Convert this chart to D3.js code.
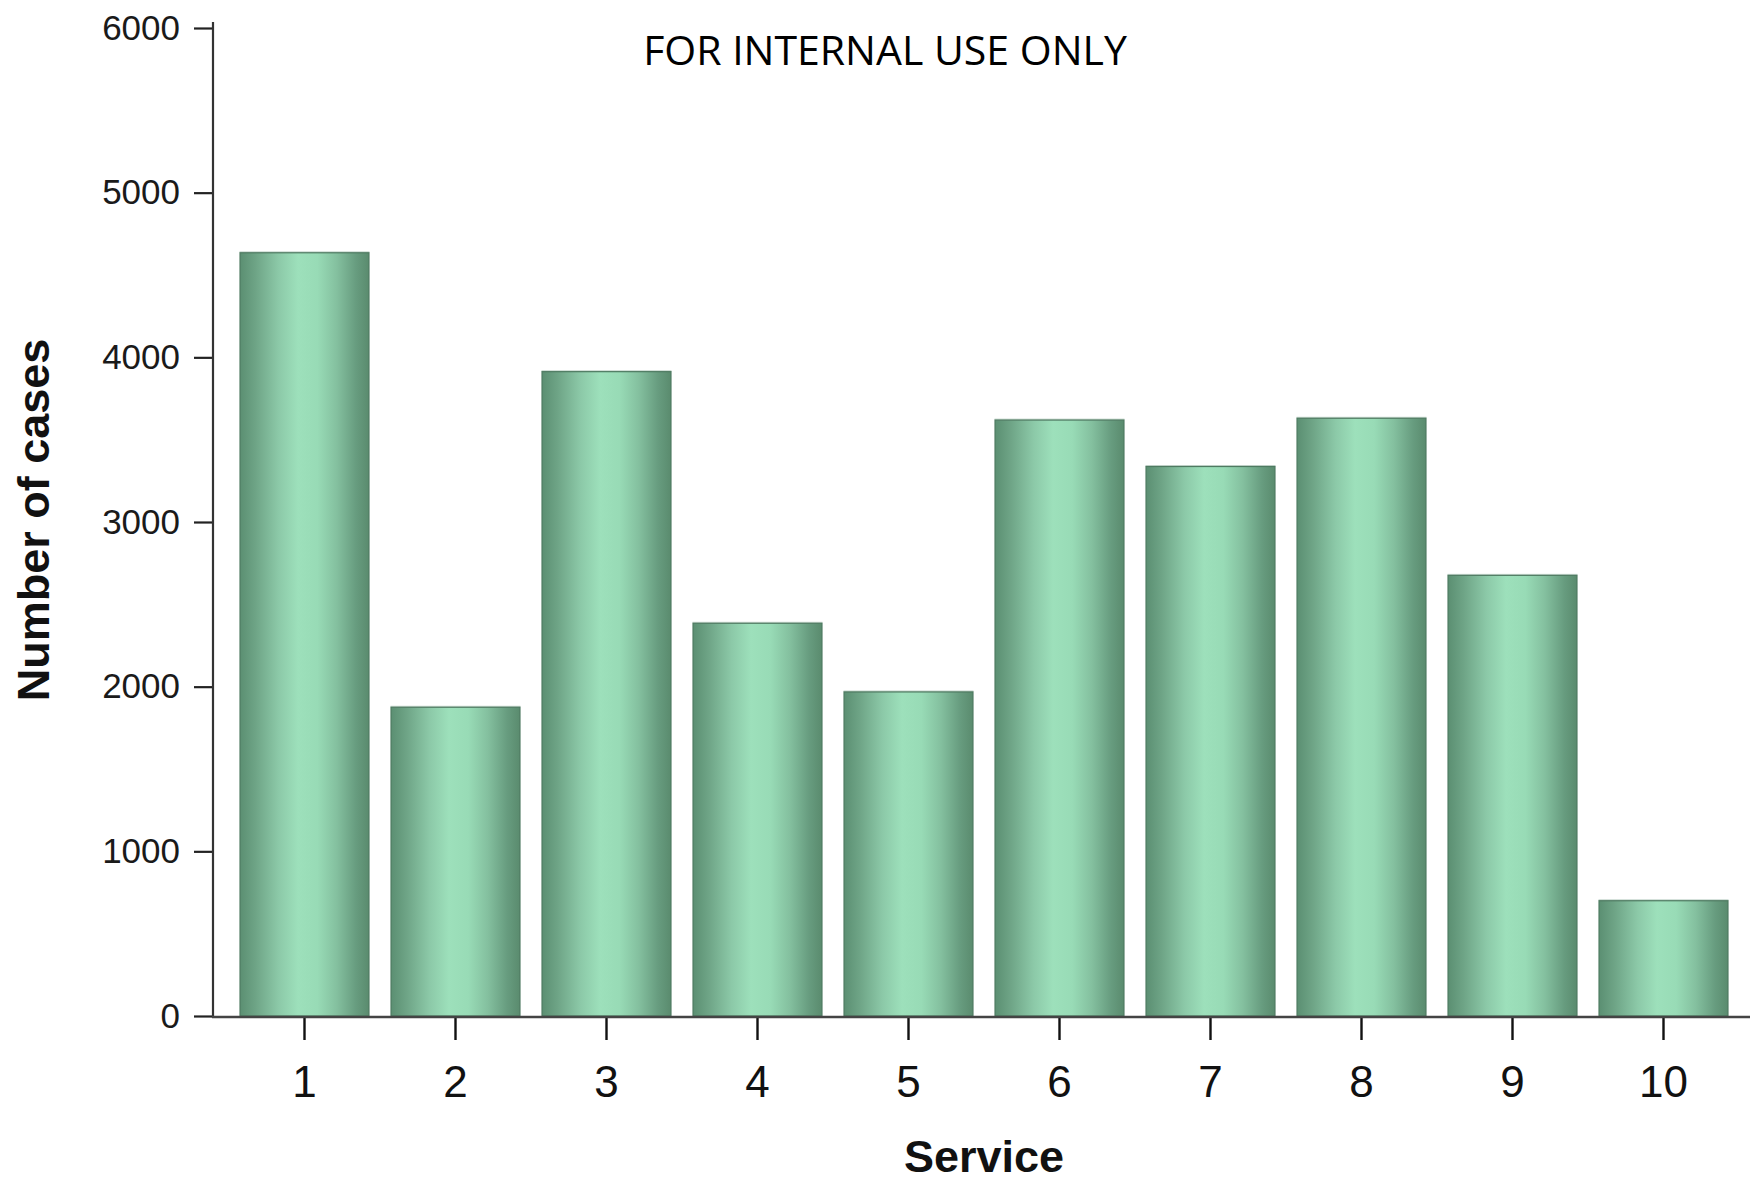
<!DOCTYPE html>
<html>
<head>
<meta charset="utf-8">
<script src="https://cdn.jsdelivr.net/npm/d3@7"></script>
<style>
  html, body { margin: 0; padding: 0; background: #fff; }
  svg { display: block; }
</style>
</head>
<body>
<svg id="chart" width="1750" height="1182"></svg>
<script>
const categories = ["1", "2", "3", "4", "5", "6", "7", "8", "9", "10"];
const values = [4635, 1875, 3913, 2385, 1968, 3619, 3337, 3630, 2676, 700];
const yTicks = [0, 1000, 2000, 3000, 4000, 5000, 6000];
const titleText = "FOR INTERNAL USE ONLY";
const xLabel = "Service";
const yLabel = "Number of cases";

const svg = d3.select("#chart");

const x = d3.scaleBand()
  .domain(categories)
  .range([229, 1739])
  .paddingInner(0.146)
  .paddingOuter(0.073);

const y = d3.scaleLinear()
  .domain([0, 6000])
  .range([1016, 28]);

// gradient
const defs = svg.append("defs");
const grad = defs.append("linearGradient")
  .attr("id", "barGrad")
  .attr("x1", "0%").attr("x2", "100%")
  .attr("y1", "0%").attr("y2", "0%");
[
  [0, "#5b8f72"],
  [0.12, "#6ea486"],
  [0.3, "#8cc9a8"],
  [0.45, "#9de0bb"],
  [0.6, "#98dbb6"],
  [0.75, "#84c09f"],
  [0.9, "#679c7f"],
  [1, "#5a8b6e"]
].forEach(([o, c]) => grad.append("stop").attr("offset", o).attr("stop-color", c));

// bars
const bars = svg.append("g").attr("class", "bars");
bars.selectAll("rect.highlight")
  .data(values)
  .join("rect")
  .attr("class", "highlight")
  .attr("x", (d, i) => x(categories[i]) - 0.5)
  .attr("y", d => y(d) - 1.5)
  .attr("width", x.bandwidth() + 1)
  .attr("height", 1.5)
  .attr("fill", "#c9d9d0");

bars.selectAll("rect.bar")
  .data(values)
  .join("rect")
  .attr("class", "bar")
  .attr("x", (d, i) => x(categories[i]))
  .attr("y", d => y(d))
  .attr("width", x.bandwidth())
  .attr("height", d => y(0) - y(d))
  .attr("fill", "url(#barGrad)")
  .attr("stroke", "#4e7a61")
  .attr("stroke-width", 1.2);

// y axis
const yAxis = svg.append("g")
  .attr("transform", "translate(213,0)")
  .call(d3.axisLeft(y).tickValues(yTicks).tickFormat(d3.format("d"))
    .tickSize(19).tickPadding(14).tickSizeOuter(0));
yAxis.select(".domain").remove();
yAxis.append("line")
  .attr("x1", 0).attr("x2", 0)
  .attr("y1", 22).attr("y2", 1018)
  .attr("stroke", "#333").attr("stroke-width", 2.2);
yAxis.selectAll(".tick line").attr("stroke", "#222").attr("stroke-width", 2.2);
yAxis.selectAll(".tick text")
  .attr("fill", "#1a1a1a")
  .style("font-family", "'Liberation Sans', Arial, sans-serif")
  .style("font-size", "35px");

// x axis
const xAxis = svg.append("g")
  .attr("transform", "translate(0,1017)")
  .call(d3.axisBottom(x).tickSize(23).tickPadding(26).tickSizeOuter(0));
xAxis.select(".domain").remove();
xAxis.append("line")
  .attr("x1", 212).attr("x2", 1750)
  .attr("y1", 0).attr("y2", 0)
  .attr("stroke", "#444").attr("stroke-width", 2.4);
xAxis.selectAll(".tick line").attr("stroke", "#111").attr("stroke-width", 2.4);
xAxis.selectAll(".tick text")
  .attr("fill", "#111")
  .style("font-family", "'Liberation Sans', Arial, sans-serif")
  .style("font-size", "44px");

// axis titles
svg.append("text")
  .attr("x", 984)
  .attr("y", 1172)
  .attr("text-anchor", "middle")
  .style("font-family", "'Liberation Sans', Arial, sans-serif")
  .style("font-weight", "bold")
  .style("font-size", "45px")
  .attr("fill", "#111")
  .text(xLabel);

svg.append("text")
  .attr("transform", "translate(49,520) rotate(-90)")
  .attr("text-anchor", "middle")
  .style("font-family", "'Liberation Sans', Arial, sans-serif")
  .style("font-weight", "bold")
  .style("font-size", "45px")
  .attr("fill", "#111")
  .text(yLabel);

// title
svg.append("text")
  .attr("x", 885)
  .attr("y", 65)
  .attr("text-anchor", "middle")
  .style("font-family", "'Open Sans', 'Noto Sans', sans-serif")
  .style("font-size", "41px")
  .attr("fill", "#000")
  .text(titleText);
</script>
</body>
</html>
